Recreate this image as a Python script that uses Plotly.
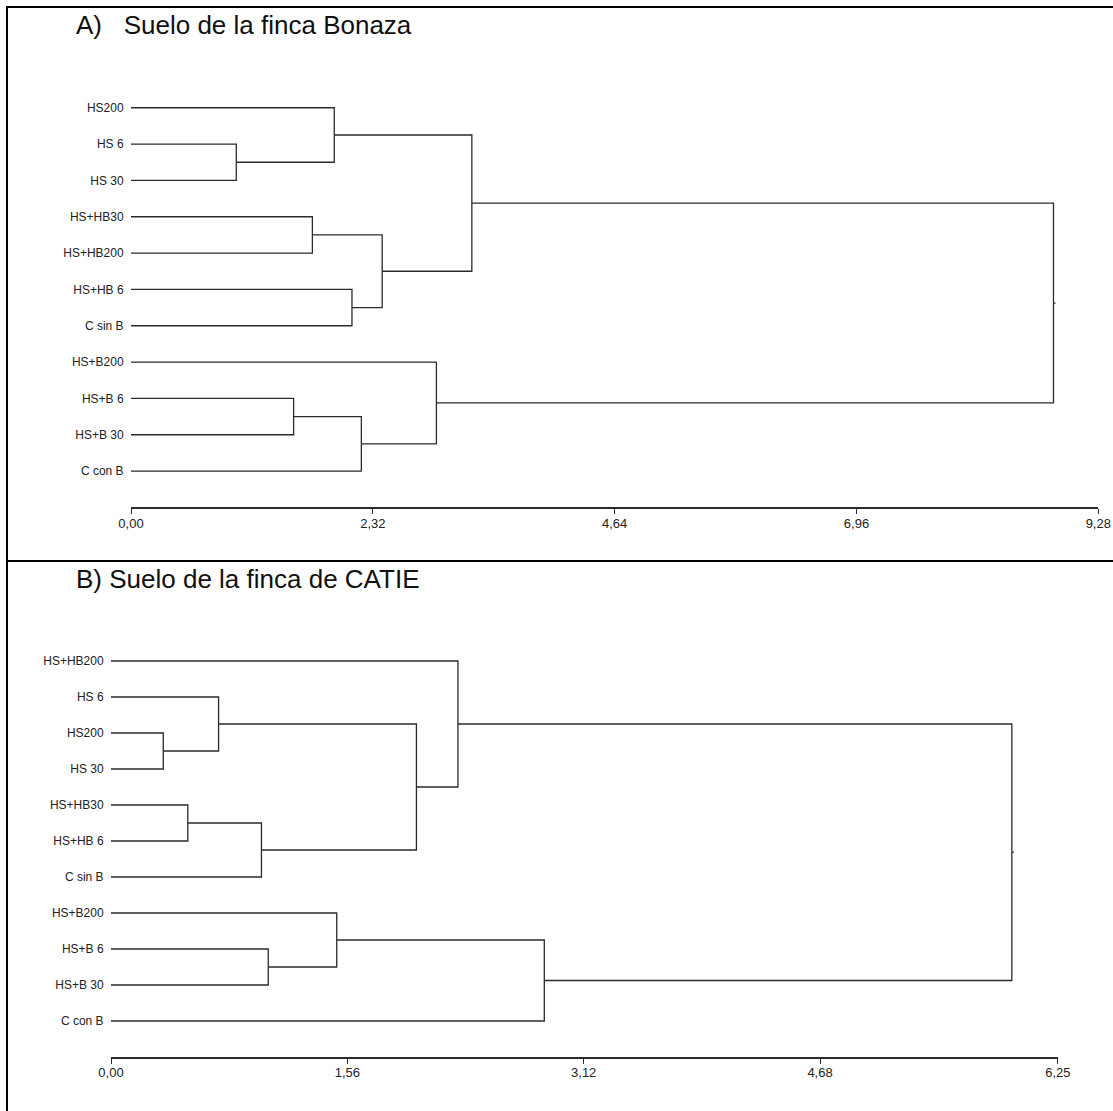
import plotly.graph_objects as go

W, H = 1113, 1111

# ---------------- Data ----------------
# Panel A: Suelo de la finca Bonaza
labels_A = ["HS200", "HS 6", "HS 30", "HS+HB30", "HS+HB200", "HS+HB 6", "C sin B",
            "HS+B200", "HS+B 6", "HS+B 30", "C con B"]
# merges: node n+k joins left_A[k] and right_A[k] at height_A[k]
left_A = [1, 0, 3, 5, 13, 12, 8, 17, 7, 16]
right_A = [2, 11, 4, 6, 14, 15, 9, 10, 18, 19]
height_A = [1.01, 1.95, 1.74, 2.12, 2.41, 3.27, 1.56, 2.21, 2.93, 8.85]
tickvals_A = [0.0, 2.32, 4.64, 6.96, 9.28]
ticktext_A = ["0,00", "2,32", "4,64", "6,96", "9,28"]

# Panel B: Suelo de la finca de CATIE
labels_B = ["HS+HB200", "HS 6", "HS200", "HS 30", "HS+HB30", "HS+HB 6", "C sin B",
            "HS+B200", "HS+B 6", "HS+B 30", "C con B"]
left_B = [2, 1, 4, 13, 12, 0, 8, 7, 18, 16]
right_B = [3, 11, 5, 6, 14, 15, 9, 17, 10, 19]
height_B = [0.345, 0.71, 0.507, 0.993, 2.016, 2.29, 1.038, 1.49, 2.86, 5.946]
tickvals_B = [0.0, 1.56, 3.12, 4.68, 6.25]
ticktext_B = ["0,00", "1,56", "3,12", "4,68", "6,25"]

title_A = "A)\u00a0\u00a0\u00a0Suelo de la finca Bonaza"
title_B = "B) Suelo de la finca de CATIE"

FONT = "Liberation Sans, Arial, sans-serif"
LINE = "#2b2b2b"


def dendro_xy(labels, left, right, height, stub):
    n = len(labels)
    pos = {i: (0.0, float(i)) for i in range(n)}
    xs, ys = [], []
    for k, (a, b, h) in enumerate(zip(left, right, height)):
        xa, ya = pos[a]
        xb, yb = pos[b]
        xs += [xa, h, h, xb, None]
        ys += [ya, ya, yb, yb, None]
        pos[n + k] = (h, (ya + yb) / 2.0)
    hr, yr = pos[n + len(height) - 1]
    xs += [hr, hr + stub, None]
    ys += [yr, yr, None]
    return xs, ys


fig = go.Figure()

xa_, ya_ = dendro_xy(labels_A, left_A, right_A, height_A, 0.02)
fig.add_trace(go.Scatter(x=xa_, y=ya_, mode="lines", line=dict(color=LINE, width=1.3),
                         xaxis="x", yaxis="y", hoverinfo="skip", showlegend=False))
xb_, yb_ = dendro_xy(labels_B, left_B, right_B, height_B, 0.013)
fig.add_trace(go.Scatter(x=xb_, y=yb_, mode="lines", line=dict(color=LINE, width=1.3),
                         xaxis="x2", yaxis="y2", hoverinfo="skip", showlegend=False))


def xaxis_cfg(dom, rng, tv, tt, anchor):
    return dict(domain=dom, range=rng, tickvals=tv, ticktext=tt, showline=True,
                linecolor=LINE, linewidth=1.5, ticks="outside", ticklen=5,
                tickcolor=LINE, tickwidth=1.2, showgrid=False, zeroline=False,
                tickfont=dict(family=FONT, size=13, color="#222"), anchor=anchor,
                ticklabelstandoff=-2, automargin=False, fixedrange=True)


def yaxis_cfg(dom, labels, anchor):
    return dict(domain=dom, range=[11, -1], tickvals=list(range(len(labels))),
                ticktext=labels, showline=False, ticks="outside", ticklen=4,
                tickcolor="rgba(0,0,0,0)", showgrid=False, zeroline=False,
                tickfont=dict(family=FONT, size=12, color="#222"), anchor=anchor,
                automargin=False, fixedrange=True)


fig.update_layout(
    template="none",
    width=W, height=H, autosize=False,
    margin=dict(l=0, r=0, t=0, b=0),
    paper_bgcolor="white", plot_bgcolor="white",
    xaxis=xaxis_cfg([131 / W, 1098.3 / W], [0, 9.28], tickvals_A, ticktext_A, "y"),
    yaxis=yaxis_cfg([1 - 507.4 / H, 1 - 71.4 / H], labels_A, "x"),
    xaxis2=xaxis_cfg([111 / W, 1057.9 / W], [0, 6.25], tickvals_B, ticktext_B, "y2"),
    yaxis2=yaxis_cfg([1 - 1057 / H, 1 - 625 / H], labels_B, "x2"),
    annotations=[
        dict(text=title_A, xref="paper", yref="paper", x=74 / W, y=1 - 25 / H,
             xanchor="left", yanchor="middle", showarrow=False,
             font=dict(family=FONT, size=26, color="#111")),
        dict(text=title_B, xref="paper", yref="paper", x=74 / W, y=1 - 579 / H,
             xanchor="left", yanchor="middle", showarrow=False,
             font=dict(family=FONT, size=26, color="#111")),
    ],
    shapes=[
        dict(type="line", xref="paper", yref="paper", x0=7 / W, x1=1.0,
             y0=1 - 7 / H, y1=1 - 7 / H, line=dict(color="black", width=2)),
        dict(type="line", xref="paper", yref="paper", x0=7 / W, x1=1.0,
             y0=1 - 561 / H, y1=1 - 561 / H, line=dict(color="black", width=2)),
        dict(type="line", xref="paper", yref="paper", x0=7 / W, x1=7 / W,
             y0=0, y1=1 - 6 / H, line=dict(color="black", width=2)),
    ],
)

fig.write_html("out.html")
